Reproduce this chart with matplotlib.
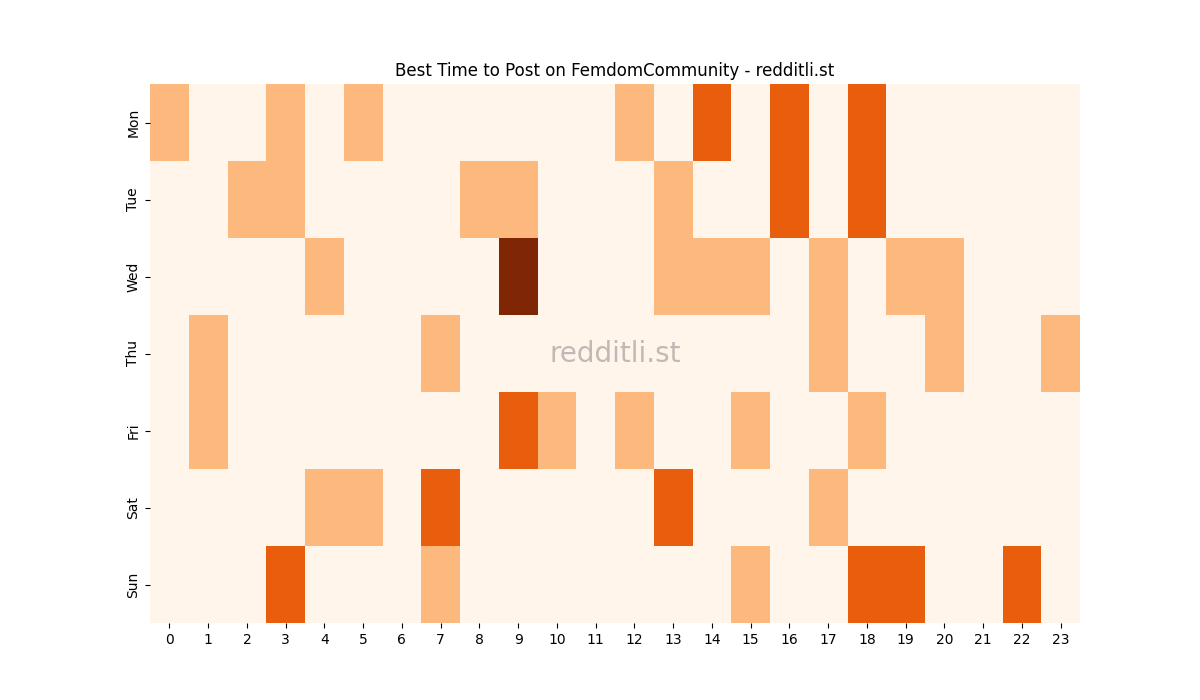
import matplotlib
matplotlib.use("Agg")
import matplotlib.pyplot as plt
import numpy as np
import seaborn as sns

days = ["Mon", "Tue", "Wed", "Thu", "Fri", "Sat", "Sun"]
hours = [str(h) for h in range(24)]

mon = [1,0,0,1,0,1,0,0,0,0,0,0,1,0,2,0,2,0,2,0,0,0,0,0]
tue = [0,0,1,1,0,0,0,0,1,1,0,0,0,1,0,0,2,0,2,0,0,0,0,0]
wed = [0,0,0,0,1,0,0,0,0,3,0,0,0,1,1,1,0,1,0,1,1,0,0,0]
thu = [0,1,0,0,0,0,0,1,0,0,0,0,0,0,0,0,0,1,0,0,1,0,0,1]
fri = [0,1,0,0,0,0,0,0,0,2,1,0,1,0,0,1,0,0,1,0,0,0,0,0]
sat = [0,0,0,0,1,1,0,2,0,0,0,0,0,2,0,0,0,1,0,0,0,0,0,0]
sun = [0,0,0,2,0,0,0,1,0,0,0,0,0,0,0,1,0,0,2,2,0,0,2,0]

data = np.array([mon, tue, wed, thu, fri, sat, sun])

fig = plt.figure(figsize=(12, 7), dpi=100)
ax = fig.add_subplot(111)
sns.heatmap(data, cmap="Oranges", cbar=False, ax=ax,
            xticklabels=hours, yticklabels=days)
ax.set_title("Best Time to Post on FemdomCommunity - redditli.st", fontsize=12)
ax.tick_params(axis='x', rotation=0)
ax.tick_params(axis='y', rotation=90)
ax.text(0.5, 0.5, "redditli.st", transform=ax.transAxes, fontsize=20,
        color="gray", alpha=0.5, ha="center", va="center")
fig.savefig("out.png", dpi=100)
